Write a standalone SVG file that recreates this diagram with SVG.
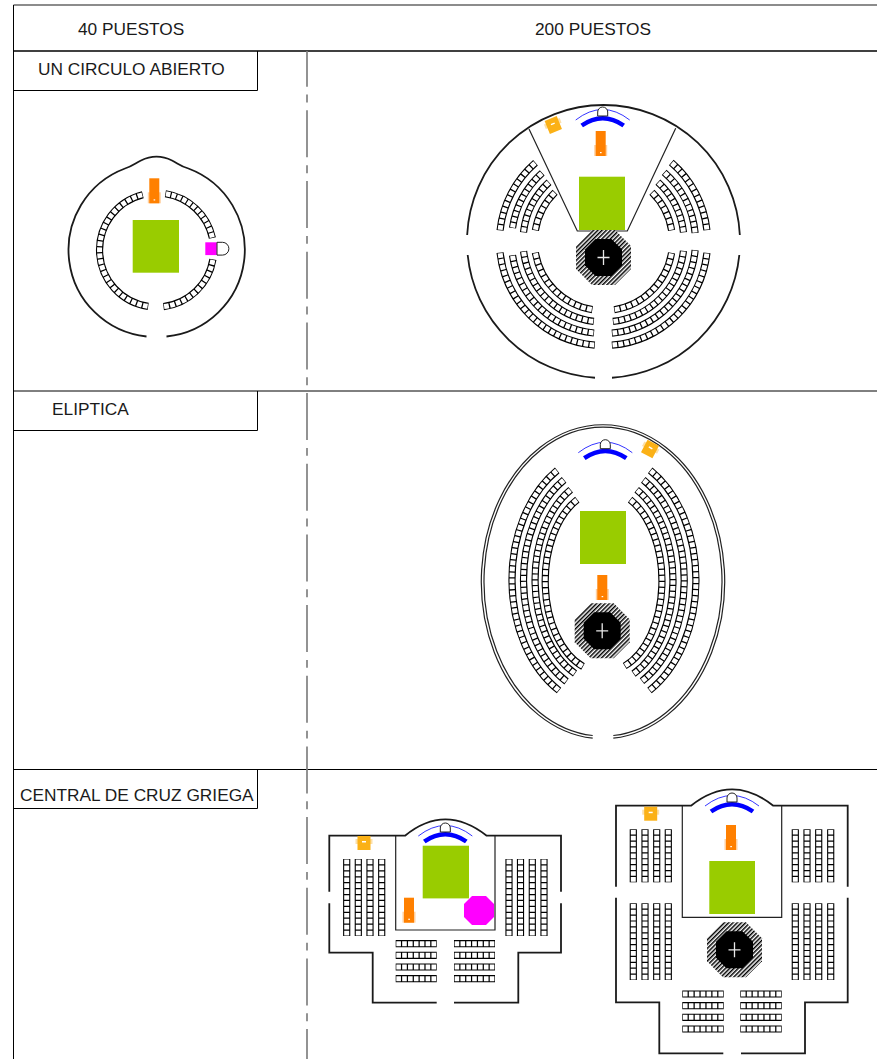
<svg xmlns="http://www.w3.org/2000/svg" xmlns:xlink="http://www.w3.org/1999/xlink" width="877" height="1059" viewBox="0 0 877 1059">
<style>
text{font-family:"Liberation Sans",Arial,sans-serif;font-size:17.3px;fill:#1a1a1a}
.wall{fill:none;stroke:#1a1a1a;stroke-width:1.8}
.thin{fill:none;stroke:#222;stroke-width:1.2}
.sb{fill:none;stroke:#000;stroke-width:7.2}
.sw{fill:none;stroke:#fff;stroke-width:5;stroke-dasharray:.79 .21;stroke-dashoffset:.895}
.green{fill:#9c0}
.or{fill:#ff8000}
.orl{fill:#ffd0a0}
.ye{fill:#fbb116}
.yel{fill:#fde0a8}
.wh{fill:#fff}
.ba{fill:none;stroke:#00f;stroke-width:4.5}
.bt{fill:none;stroke:#00f;stroke-width:.8}
.dome{fill:#fff;stroke:#222;stroke-width:1}
.cross{stroke:#e8e8e8;stroke-width:1.3;fill:none}
</style>
<defs>
<pattern id="hatch" width="3" height="3" patternUnits="userSpaceOnUse" patternTransform="rotate(45)">
<rect width="3" height="3" fill="#fff"/><rect width="1.5" height="3" fill="#000"/>
</pattern>
<g id="pulpit"><rect x="-6.5" y="-11" width="13" height="11" class="orl"/><rect x="-5" y="-25" width="10" height="25" class="or"/><rect x="-.7" y="-4" width="1.6" height="1.2" class="wh"/></g>
<g id="chair"><rect x="-8.5" y="-4" width="17" height="5" class="yel"/><rect x="-6.5" y="-7" width="13" height="14" class="ye"/><rect x="-2" y="-2" width="4" height="1.5" class="wh"/></g>
<g id="octa"><polygon points="-11.5,-27.5 11.5,-27.5 27.5,-11.5 27.5,11.5 11.5,27.5 -11.5,27.5 -27.5,11.5 -27.5,-11.5" fill="url(#hatch)"/><polygon points="-8,-18.5 8,-18.5 18.5,-8 18.5,8 8,18.5 -8,18.5 -18.5,8 -18.5,-8" fill="#000"/><path d="M-6,0H6M0,-7.5V7.5" class="cross"/></g>
<g id="apse"><path d="M-27,0Q0,-21 27,0" class="bt"/><path d="M-21,5.5Q0,-9 21,5.5" class="ba"/><path d="M-5,-1V-5A5,5 0 0 1 5,-5V-1Z" class="dome" transform="translate(0,-3)"/></g>
<g id="s1"><path d="M142.8,194.7A57,57 0 0 0 148.2,306.4" pathLength="26"/><path d="M165.4,193.7A57,57 0 0 1 212.4,238" pathLength="12"/><path d="M212.9,259.4A57,57 0 0 1 163.5,306.6" pathLength="12"/></g>
<g id="s2">
<path d="M500.1,252.6A104,104 0 0 0 594.8,345.1" pathLength="24"/>
<path d="M512.5,255.3A92,92 0 0 0 594,333" pathLength="20"/>
<path d="M523.6,251.2A80.5,80.5 0 0 0 593.8,321.4" pathLength="18"/>
<path d="M535.4,252.65A69,69 0 0 0 592.35,309.6" pathLength="14"/>
<path d="M706.9,252.9A104,104 0 0 1 611.9,345.15" pathLength="24"/>
<path d="M695.1,250.2A92,92 0 0 1 611.9,333.1" pathLength="21"/>
<path d="M683.45,250.9A80.5,80.5 0 0 1 612.9,321.45" pathLength="18"/>
<path d="M671.55,252.9A69,69 0 0 1 614.2,309.7" pathLength="14"/>
<path d="M500.1,230.4A104,104 0 0 1 535.5,162.8" pathLength="13"/>
<path d="M512.5,228.1A92,92 0 0 1 542.2,172.9" pathLength="11"/>
<path d="M523.5,232.4A80.5,80.5 0 0 1 549,182.25" pathLength="10"/>
<path d="M535.4,230.35A69,69 0 0 1 555.1,192.3" pathLength="7"/>
<path d="M706.9,230.1A104,104 0 0 0 671.3,162.6" pathLength="13"/>
<path d="M695.1,233A92,92 0 0 0 664.2,172.4" pathLength="12"/>
<path d="M683.5,232.4A80.5,80.5 0 0 0 657.9,182.15" pathLength="10"/>
<path d="M671.6,230.35A69,69 0 0 0 651.9,192.3" pathLength="7"/>
</g>
<g id="s3">
<path d="M557.2,470.4A92,127 0 0 0 559,690.5" pathLength="41"/>
<path d="M564.1,479.9A80.5,115 0 0 0 566.5,681.5" pathLength="38"/>
<path d="M570.7,489.7A68.7,103 0 0 0 575,673.5" pathLength="35"/>
<path d="M577.3,499.7A57,90.6 0 0 0 583,666.5" pathLength="31"/>
<path d="M650.2,470.4A92,127 0 0 1 649.5,690.5" pathLength="41"/>
<path d="M643.3,479.9A80.5,115 0 0 1 642,681.2" pathLength="38"/>
<path d="M636.7,489.7A68.7,103 0 0 1 633.5,673.7" pathLength="35"/>
<path d="M630.1,499.7A57,90.6 0 0 1 624.7,666" pathLength="31"/>
</g>
<g id="s4">
<path d="M346.7,859V936" pathLength="13"/><path d="M358.3,859V936" pathLength="13"/><path d="M370,859V936" pathLength="13"/><path d="M381.7,859V936" pathLength="13"/>
<path d="M509,859V936" pathLength="13"/><path d="M520.5,859V936" pathLength="13"/><path d="M532.3,859V936" pathLength="13"/><path d="M544,859V936" pathLength="13"/>
<path d="M395.7,943.7H436.7" pathLength="7"/><path d="M395.7,955.3H436.7" pathLength="7"/><path d="M395.7,967H436.7" pathLength="7"/><path d="M395.7,978.7H436.7" pathLength="7"/>
<path d="M454,943.7H495" pathLength="7"/><path d="M454,955.3H495" pathLength="7"/><path d="M454,967H495" pathLength="7"/><path d="M454,978.7H495" pathLength="7"/>
</g>
<g id="s5">
<path d="M633.3,829.3V882.3" pathLength="9"/><path d="M645,829.3V882.3" pathLength="9"/><path d="M656.7,829.3V882.3" pathLength="9"/><path d="M668.3,829.3V882.3" pathLength="9"/>
<path d="M795.3,829.3V882.3" pathLength="9"/><path d="M807,829.3V882.3" pathLength="9"/><path d="M818.7,829.3V882.3" pathLength="9"/><path d="M830.7,829.3V882.3" pathLength="9"/>
<path d="M633.3,903.3V980" pathLength="13"/><path d="M645,903.3V980" pathLength="13"/><path d="M656.7,903.3V980" pathLength="13"/><path d="M668.3,903.3V980" pathLength="13"/>
<path d="M795.3,903.3V980" pathLength="13"/><path d="M807,903.3V980" pathLength="13"/><path d="M818.7,903.3V980" pathLength="13"/><path d="M830.7,903.3V980" pathLength="13"/>
<path d="M682.3,994H723.7" pathLength="7"/><path d="M682.3,1005.7H723.7" pathLength="7"/><path d="M682.3,1017.3H723.7" pathLength="7"/><path d="M682.3,1029H723.7" pathLength="7"/>
<path d="M740.3,994H781.7" pathLength="7"/><path d="M740.3,1005.7H781.7" pathLength="7"/><path d="M740.3,1017.3H781.7" pathLength="7"/><path d="M740.3,1029H781.7" pathLength="7"/>
</g>
</defs>
<rect width="877" height="1059" fill="#fff"/>
<g id="table">
<path d="M13.5,5H877" fill="none" stroke="#666" stroke-width="1.5"/>
<path d="M13.5,5V1059" fill="none" stroke="#000" stroke-width="1"/>
<path d="M13.5,51H877" fill="none" stroke="#000" stroke-width="1.5"/>
<path d="M13.5,391H877M13.5,769.5H877" fill="none" stroke="#000" stroke-width="1"/>
<path d="M257.5,51V90.5H13.5M257.5,391V430.5H13.5M257.5,769.5V808.5H13.5" fill="none" stroke="#000" stroke-width="1"/>
<path d="M307,51V1059" fill="none" stroke="#808080" stroke-width="1.7" stroke-dasharray="47 7.9 7.9 7.87" stroke-dashoffset="11.3"/>
<text x="78" y="35">40 PUESTOS</text>
<text x="535" y="35">200 PUESTOS</text>
<text x="38" y="75">UN CIRCULO ABIERTO</text>
<text x="52" y="415">ELIPTICA</text>
<text x="20" y="801">CENTRAL DE CRUZ GRIEGA</text>
</g>
<g id="circle-40">
<path class="wall" d="M146.5,336.5A87,87 0 0 1 125,168.5C132,166.5 135,163.5 141,160.5C151,155.5 162,155.5 172,160.5C178,163.5 181,166.5 188.4,168.5A87,87 0 0 1 166.5,336.5"/>
<use href="#s1" class="sb"/><use href="#s1" class="sw"/>
<rect class="green" x="132.7" y="220" width="46.3" height="52.7"/>
<use href="#pulpit" x="154.3" y="203.3"/>
<rect x="205.3" y="242.3" width="11.5" height="12.8" fill="#f0f"/>
<path class="dome" d="M217,242.3h5.5a6.4,6.4 0 0 1 0,12.8h-5.5z"/>
</g>
<g id="circle-200">
<path class="wall" d="M467.155,235A136.5,136.5 0 0 1 739.845,235M739.33,255A136.5,136.5 0 0 1 612,377.73M595,377.73A136.5,136.5 0 0 1 467.67,255"/>
<path class="thin" d="M529,129L577.3,231H627.3L675.7,128.3"/>
<use href="#s2" class="sb"/><use href="#s2" class="sw"/>
<rect class="green" x="579" y="176.7" width="46" height="53.3"/>
<use href="#pulpit" x="600.7" y="156"/>
<use href="#chair" transform="translate(553.3,125) rotate(-22)"/>
<use href="#apse" x="602.7" y="120"/>
<use href="#octa" x="603.5" y="257.5"/>
</g>
<g id="ellipse-200">
<path class="thin" d="M592.7,736.2A121.7,157 0 1 1 613.3,736.2M592.7,733.5A119,154.5 0 1 1 613.3,733.5" transform="translate(0,2)"/>
<use href="#s3" class="sb"/><use href="#s3" class="sw"/>
<rect class="green" x="580" y="511" width="46" height="53"/>
<use href="#pulpit" x="602.3" y="600"/>
<use href="#chair" transform="translate(650,449) rotate(28)"/>
<use href="#apse" x="605.3" y="452.7"/>
<use href="#octa" x="602.2" y="630.8"/>
</g>
<g id="cross-40">
<path class="wall" d="M329.3,891.7V835.7H405Q445,803 486.7,835.7H561V891.7M561,903.3V952.7H518.3V1002.7H454M436.7,1002.7H372.7V952.7H329.3V903.3"/>
<path class="thin" d="M395.7,835.7V930H495V835.7"/>
<use href="#s4" class="sb"/><use href="#s4" class="sw"/>
<rect class="green" x="422.7" y="845.7" width="46.3" height="52.7"/>
<use href="#pulpit" x="409" y="922.7"/>
<use href="#chair" x="364" y="843"/>
<use href="#apse" x="445.3" y="836"/>
<polygon points="472,896 486,896 494,904 494,917 486,925 472,925 464,917 464,904" fill="#f0f"/>
</g>
<g id="cross-200">
<path class="wall" d="M616,886.7V805.7H691Q732,773 773.3,805.7H847.7V886.7M847.7,897.7V1002.3H805V1053.3H741M723.3,1053.3H659.3V1002.3H616V897.7"/>
<path class="thin" d="M682.3,805.7V917.3H781.7V805.7"/>
<use href="#s5" class="sb"/><use href="#s5" class="sw"/>
<rect class="green" x="709.3" y="861" width="45.7" height="53"/>
<use href="#pulpit" x="731" y="850"/>
<use href="#chair" x="650.7" y="813.7"/>
<use href="#apse" x="732" y="806"/>
<use href="#octa" x="734.5" y="949.8"/>
</g>
</svg>
